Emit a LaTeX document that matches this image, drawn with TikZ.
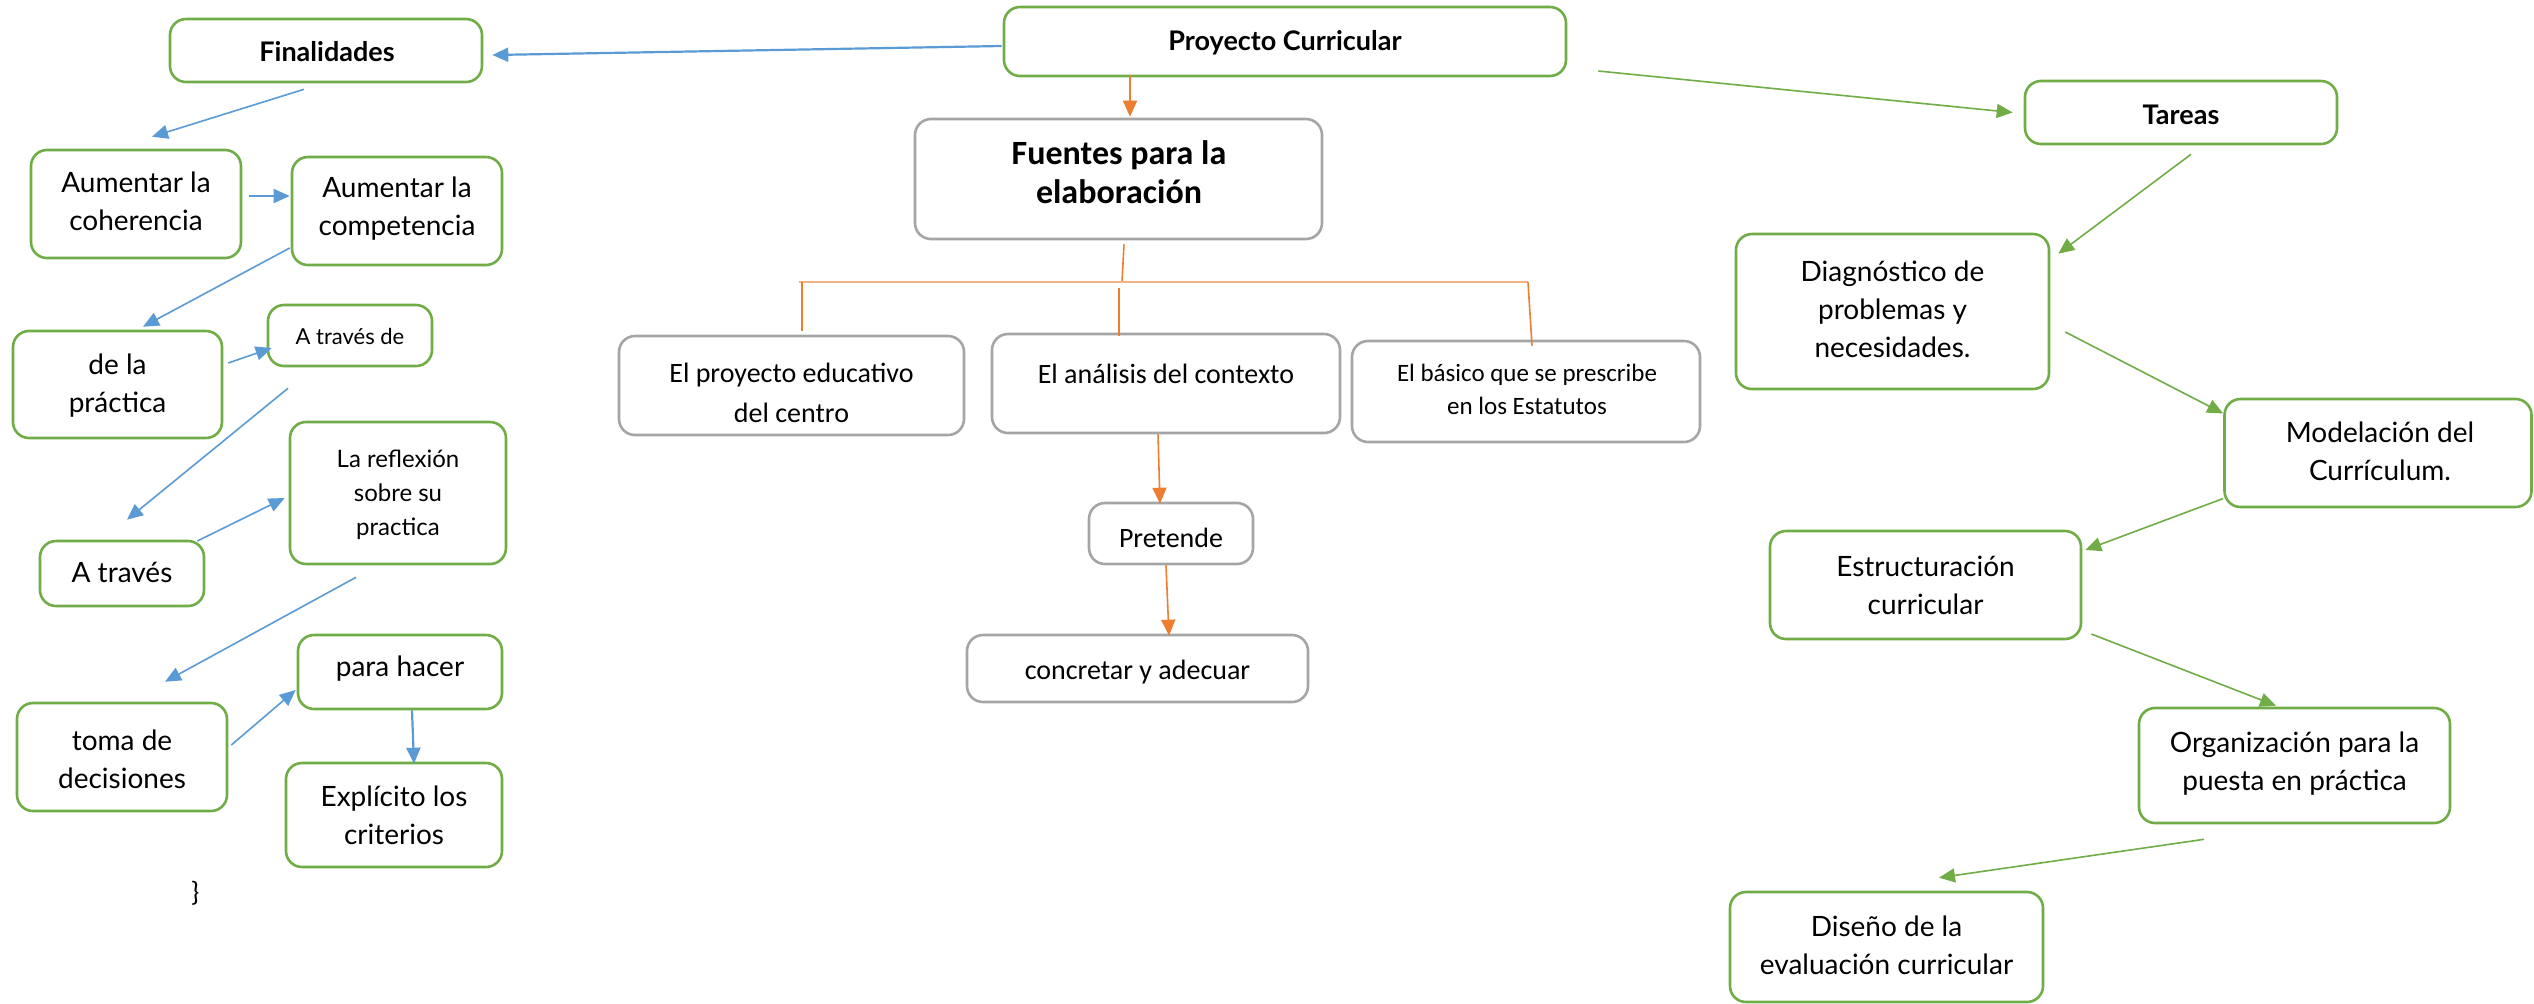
\documentclass[tikz,border=0pt]{standalone}
\usepackage{fontspec}
\setmainfont{Lato}
\newfontfamily\gfont{Lato}
\newfontfamily\cfont{Carlito}
\usetikzlibrary{arrows.meta,calc}
\definecolor{gcol}{HTML}{70AD47}
\definecolor{bcol}{HTML}{5B9BD5}
\definecolor{ocol}{HTML}{ED7D31}
\definecolor{olight}{HTML}{F4B183}
\definecolor{grcol}{HTML}{A5A5A5}
\begin{document}
\begin{tikzpicture}[x=0.5pt,y=-0.5pt,
  gbox/.style={draw=gcol,line width=1.3pt,rounded corners=8pt,inner sep=0pt,fill=white},
  kbox/.style={draw=grcol,line width=1.3pt,rounded corners=8pt,inner sep=0pt,fill=white},
  tx/.style={inner sep=0pt,align=center},
  ghead/.style={tx,font=\gfont\bfseries\fontsize{13.5pt}{17pt}\selectfont},
  gbig/.style={tx,font=\gfont\fontsize{14pt}{19pt}\selectfont},
  gsmall/.style={tx,font=\gfont\fontsize{11pt}{14pt}\selectfont},
  gmid/.style={tx,font=\gfont\fontsize{12pt}{17pt}\selectfont},
  cbig/.style={tx,font=\cfont\fontsize{14pt}{20pt}\selectfont},
  csmall/.style={tx,font=\cfont\fontsize{12.5pt}{16.5pt}\selectfont},
  chead/.style={tx,font=\cfont\bfseries\fontsize{17pt}{19.5pt}\selectfont},
  tip/.style={-{Triangle[length=8pt,width=7pt]}},
  barrow/.style={draw=bcol,line width=0.8pt,tip},
  oarrow/.style={draw=ocol,line width=0.8pt,tip},
  garrow/.style={draw=gcol,line width=0.8pt,tip},
  oline/.style={draw=ocol,line width=0.8pt},
]
\useasboundingbox (0,0) rectangle (2534,1003);
\fill[white] (0,0) rectangle (2534,1003);

% ---- boxes ----
\node[gbox,minimum width=156pt,minimum height=31.5pt] (fin) at (326,50.5) {};
\node[gbox,minimum width=281pt,minimum height=34.5pt] (proy) at (1285,41.5) {};
\node[kbox,minimum width=203.5pt,minimum height=60pt] (fuen) at (1118.5,179) {};
\node[gbox,minimum width=156pt,minimum height=31.5pt] (tar) at (2181,112.5) {};
\node[gbox,minimum width=105pt,minimum height=54pt] (coh) at (136,204) {};
\node[gbox,minimum width=105pt,minimum height=54pt] (comp) at (397,211) {};
\node[gbox,minimum width=104.5pt,minimum height=53.5pt] (prac) at (117.5,384.5) {};
\node[gbox,minimum width=82pt,minimum height=30.5pt] (atd) at (350,335.5) {};
\node[gbox,minimum width=82pt,minimum height=32.5pt] (at) at (122,573.5) {};
\node[gbox,minimum width=108pt,minimum height=71pt] (refl) at (398,493) {};
\node[gbox,minimum width=105pt,minimum height=54pt] (toma) at (122,757) {};
\node[gbox,minimum width=102pt,minimum height=37pt] (para) at (400,672) {};
\node[gbox,minimum width=108pt,minimum height=52pt] (expl) at (394,815) {};
\node[kbox,minimum width=172.5pt,minimum height=49.5pt] (pec) at (791.5,385.5) {};
\node[kbox,minimum width=174pt,minimum height=49.5pt] (anal) at (1166,383.5) {};
\node[kbox,minimum width=174pt,minimum height=50.5pt] (bas) at (1526,391.5) {};
\node[kbox,minimum width=82pt,minimum height=30.5pt] (pret) at (1171,533.5) {};
\node[kbox,minimum width=170.5pt,minimum height=33.5pt] (conc) at (1137.5,668.5) {};
\node[gbox,minimum width=156.5pt,minimum height=77.5pt] (diag) at (1892.5,311.5) {};
\node[gbox,minimum width=153.5pt,minimum height=54pt] (mod) at (2378,453) {};
\node[gbox,minimum width=155.5pt,minimum height=54pt] (estr) at (1925.5,585) {};
\node[gbox,minimum width=155.5pt,minimum height=57.5pt] (org) at (2294.5,765.5) {};
\node[gbox,minimum width=156.5pt,minimum height=55pt] (dis) at (1886.5,947) {};

% ---- texts ----
\node[ghead] (finT) at (327,52) {Finalidades};
\node[ghead] (proyT) at (1285,43) {Proyecto Curricular};
\node[chead] (fuenT) at (1119,172) {Fuentes para la\\elaboración};
\node[ghead] (tarT) at (2181,115) {Tareas};
\node[gbig] (cohT) at (136,201) {Aumentar la\\coherencia};
\node[gbig] (compT) at (397,209) {Aumentar la\\competencia};
\node[gbig] (pracT) at (117.5,386) {de la\\práctica};
\node[gsmall] (atdT) at (350,336) {A través de};
\node[gbig] (atT) at (122,572) {A través};
\node[gmid] (reflT) at (398,495) {La reflexión\\sobre su\\practica};
\node[gbig] (tomaT) at (122,759) {toma de\\decisiones};
\node[gbig] (paraT) at (400,669) {para hacer};
\node[gbig] (explT) at (394,815) {Explícito los\\criterios};
\node[cbig] (brace) at (195,893) {\}};
\node[cbig] (pecT) at (791.5,393) {El proyecto educativo\\del centro};
\node[cbig] (analT) at (1166,374) {El análisis del contexto};
\node[csmall] (basT) at (1527,389) {El básico que se prescribe\\en los Estatutos};
\node[cbig] (pretT) at (1171,538) {Pretende};
\node[cbig] (concT) at (1137.5,672) {concretar y adecuar};
\node[gbig] (diagT) at (1892.5,309) {Diagnóstico de\\problemas y\\necesidades.};
\node[gbig] (modT) at (2380,451) {Modelación del\\Currículum.};
\node[gbig] (estrT) at (1925.5,585) {Estructuración\\curricular};
\node[gbig] (orgT) at (2294.5,764) {Organización para la\\puesta en práctica};
\node[gbig] (disT) at (1886.5,945) {Diseño de la\\evaluación curricular};

% ---- blue connectors ----
\draw[barrow,line width=1.1pt] ($(proy.west)+(-1,4.5)$) -- ($(fin.east)+(9,4.5)$);
\draw[barrow] ($(fin.south)+(-22,6)$) -- ($(coh.north)+(16,-12)$);
\draw[barrow] ($(coh.east)+(7,-8)$) -- ($(comp.west)+(-1,-15)$);
\draw[barrow] ($(comp.west)+(-1,37)$) -- ($(prac.north)+(25.5,-3)$);
\draw[barrow] ($(prac.east)+(5,-21.5)$) -- ($(atd.west)+(5,12.5)$);
\draw[barrow] ($(atd.south)+(-62,21)$) -- ($(at.north)+(5,-20)$);
\draw[barrow] ($(at.east)+(-8,-32.5)$) -- ($(refl.west)+(-4,5)$);
\draw[barrow] ($(refl.south)+(-42,12)$) -- ($(toma.north)+(43,-20)$);
\draw[barrow] ($(toma.east)+(3,-12)$) -- ($(para.west)+(-1,18)$);
\draw[barrow,line width=1.1pt] ($(para.south)+(12,0)$) -- ($(expl.north)+(20,2)$);

% ---- orange connectors ----
\coordinate (barL) at (799,282);
\coordinate (barM) at (1122,282);
\coordinate (barR) at (1528,282);
\draw[oarrow] ($(proy.south)+(-155,-2)$) -- ($(fuen.north)+(11.5,-1)$);
\draw[oline] ($(fuen.south)+(5.5,4)$) -- (barM);
\draw[draw=olight,line width=1.3pt] (barL) -- (barR);
\draw[oline] ($(barL)+(3,0)$) -- ($(pec.north)+(10.5,-4)$);
\draw[oline] ($(barM)+(-3,6)$) -- ($(anal.north)+(-47,3)$);
\draw[oline] (barR) -- ($(bas.north)+(6,6)$);
\draw[oarrow] ($(anal.south)+(-8,0)$) -- ($(pret.north)+(-11,2)$);
\draw[oarrow] ($(pret.south)+(-5,0)$) -- ($(conc.north)+(31.5,2)$);

% ---- green connectors ----
\draw[garrow] ($(proy.east)+(31,29.5)$) -- ($(tar.west)+(-11,0)$);
\draw[garrow] ($(tar.south)+(10,9)$) -- ($(diag.north east)+(8,21)$);
\draw[garrow] ($(diag.east)+(15,20.5)$) -- ($(mod.west)+(0,-39.5)$);
\draw[garrow] ($(mod.west)+(0,45.5)$) -- ($(estr.east)+(3,-35)$);
\draw[garrow] ($(estr.east)+(9,49)$) -- ($(org.north)+(-18.5,-1)$);
\draw[garrow] ($(org.south)+(-90.5,15)$) -- ($(dis.north)+(52.5,-13)$);
\end{tikzpicture}
\end{document}
